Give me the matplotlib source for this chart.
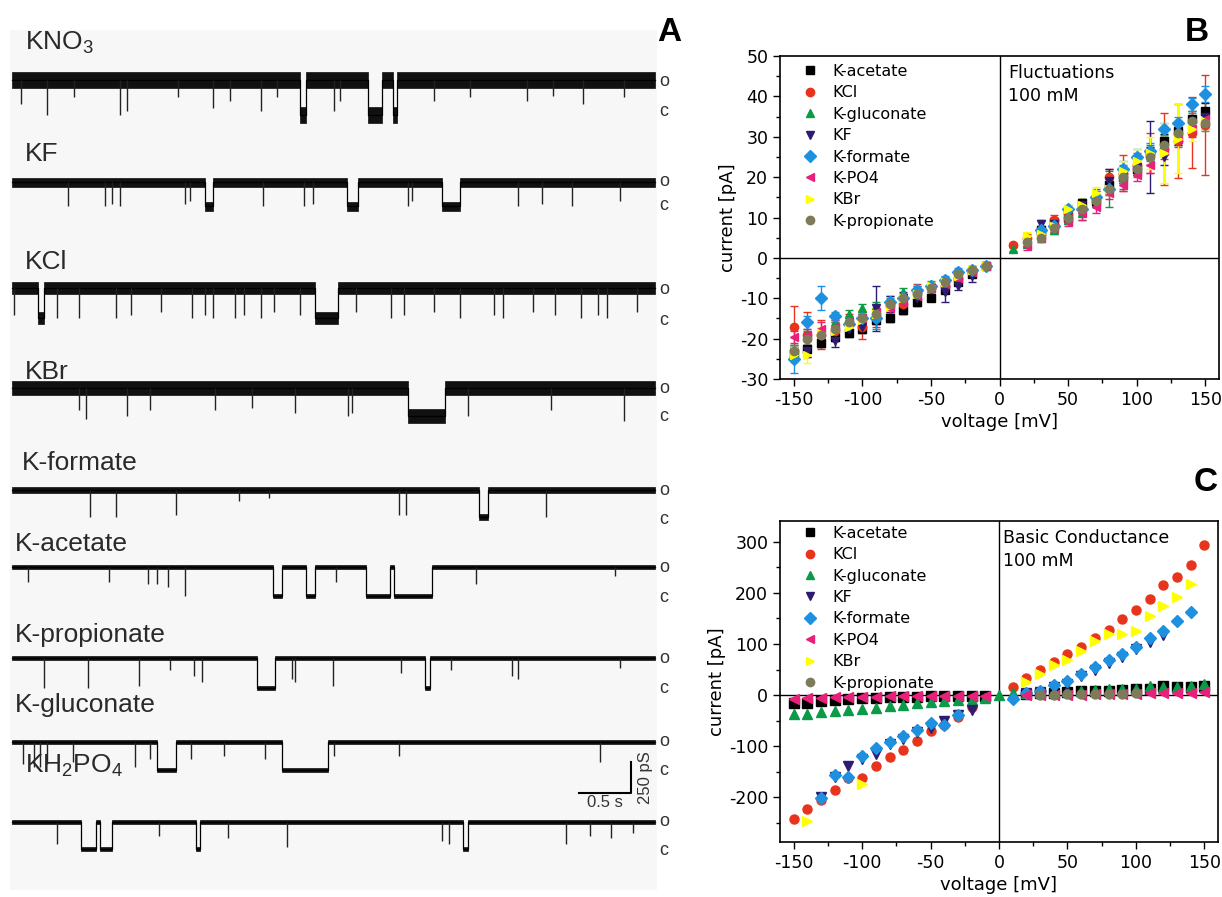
import numpy as np
import matplotlib
matplotlib.use("Agg")
import matplotlib.pyplot as plt
from matplotlib.lines import Line2D
from matplotlib.ticker import MultipleLocator

plt.rcParams["axes.unicode_minus"] = False
plt.rcParams["mathtext.fontset"] = "custom"
plt.rcParams["mathtext.rm"] = "Liberation Sans"
plt.rcParams["mathtext.it"] = "Liberation Sans"

nan = np.nan

# ---------------- panel A: single channel traces ----------------
trace_names = ["KNO$_\\mathrm{3}$", "KF", "KCl", "KBr", "K-formate", "K-acetate",
               "K-propionate", "K-gluconate", "KH$_\\mathrm{2}$PO$_\\mathrm{4}$"]
# open -> closed amplitude (pS)
trace_amp = [280, 195, 240, 225, 220, 235, 240, 225, 220]

# long closures (start s, end s)
kno3_closures = [(2.77, 2.83), (3.42, 3.56), (3.66, 3.70)]
kf_closures = [(1.86, 1.93), (3.22, 3.33), (4.13, 4.31)]
kcl_closures = [(0.25, 0.31), (2.91, 3.13)]
kbr_closures = [(3.81, 4.16)]
formate_closures = [(4.49, 4.58)]
acetate_closures = [(2.51, 2.60), (2.83, 2.91), (3.40, 3.63), (3.67, 4.04)]
propionate_closures = [(2.36, 2.53), (3.97, 4.02)]
gluconate_closures = [(1.39, 1.58), (2.60, 3.04)]
kh2po4_closures = [(0.66, 0.81), (0.85, 0.96), (1.77, 1.81), (4.34, 4.38)]

# brief closures (time s, fraction of full amplitude)
kno3_spikes = [(0.09, 0.7), (0.34, 1.0), (0.60, 0.5), (1.04, 1.0), (1.11, 0.9), (1.60, 0.5),
               (1.93, 0.8), (2.10, 0.6), (2.39, 0.9), (2.55, 0.5), (3.10, 0.9), (3.15, 0.6),
               (4.06, 0.6), (4.40, 0.5), (4.95, 0.6), (5.20, 0.45), (5.49, 0.7), (5.88, 0.5)]
kf_spikes = [(0.54, 1.0), (0.89, 1.0), (0.96, 0.9), (1.04, 1.0), (1.66, 0.9), (1.71, 0.8),
             (2.41, 1.0), (2.81, 1.0), (2.89, 0.9), (3.81, 1.0), (3.85, 0.8), (4.87, 1.0),
             (5.10, 0.9), (5.38, 1.0), (5.85, 0.8)]
kcl_spikes = [(0.02, 0.9), (0.43, 1.0), (0.64, 1.0), (1.00, 1.0), (1.14, 0.9), (1.43, 0.8),
              (1.73, 1.0), (1.86, 0.9), (1.93, 1.0), (2.14, 1.0), (2.23, 0.9), (2.39, 1.0),
              (2.52, 0.8), (2.77, 0.9), (3.31, 0.8), (3.64, 1.0), (3.77, 0.9), (4.06, 0.8),
              (4.31, 1.0), (4.63, 0.9), (4.72, 1.0), (5.01, 0.8), (5.22, 0.9), (5.47, 1.0),
              (5.63, 0.9), (5.72, 1.0), (6.01, 0.8)]
kbr_spikes = [(0.64, 0.8), (0.71, 1.1), (1.11, 1.0), (1.33, 0.8), (1.95, 0.8), (2.31, 0.7),
              (2.72, 0.9), (3.23, 1.0), (3.27, 0.9), (4.38, 1.0), (5.18, 0.8), (5.88, 1.2)]
formate_spikes = [(0.75, 1.0), (1.00, 1.0), (1.58, 0.9), (2.18, 0.4), (2.47, 0.3),
                  (3.72, 0.9), (3.79, 0.9), (5.13, 1.0)]
acetate_spikes = [(0.15, 0.5), (0.93, 0.5), (1.31, 0.6), (1.39, 0.6), (1.50, 0.7),
                  (1.66, 1.0), (3.12, 0.5), (4.46, 0.6), (5.80, 0.3)]
propionate_spikes = [(0.31, 1.0), (0.73, 1.0), (1.22, 0.95), (1.52, 0.4), (1.75, 0.6),
                     (1.83, 0.8), (2.69, 0.7), (2.72, 0.8), (3.09, 0.95), (3.74, 0.5),
                     (4.22, 0.4), (4.81, 0.6), (4.87, 0.7), (5.85, 0.35)]
gluconate_spikes = [(0.11, 0.8), (0.21, 0.9), (0.27, 0.9), (0.34, 0.8), (0.59, 0.7),
                    (1.18, 0.9), (1.33, 0.6), (1.72, 0.6), (2.04, 0.5), (2.43, 0.6),
                    (3.10, 0.5), (3.72, 0.5), (5.65, 0.7)]
kh2po4_spikes = [(0.43, 0.8), (1.41, 0.5), (2.08, 0.6), (2.64, 0.9), (4.13, 0.7),
                 (4.20, 0.8), (5.33, 0.8), (5.56, 0.5), (5.76, 0.6), (5.97, 0.4)]

all_closures = [kno3_closures, kf_closures, kcl_closures, kbr_closures, formate_closures,
                acetate_closures, propionate_closures, gluconate_closures, kh2po4_closures]
all_spikes = [kno3_spikes, kf_spikes, kcl_spikes, kbr_spikes, formate_spikes,
              acetate_spikes, propionate_spikes, gluconate_spikes, kh2po4_spikes]

# ---------------- panel B: fluctuations ----------------
volt_B = [-150, -140, -130, -120, -110, -100, -90, -80, -70, -60, -50, -40, -30, -20, -10,
          10, 20, 30, 40, 50, 60, 70, 80, 90, 100, 110, 120, 130, 140, 150]
acetate_B = [-23.5, -22.5, -21, -19.5, -18.5, -17.5, -15.5, -14.8, -12.8, -11, -10, -8, -6, -4, -2,
             nan, nan, 7, 9, 10, 13.5, 14, 18, 20, 22, 26, 29, 31.5, 34.5, 36.5]
kcl_B = [-17, -19, -19, -18, -16.5, -17, -15, -12, -11.5, -8.5, -7.5, -7, -5, -3.5, -2,
         3.2, 5, 6, 9.5, 11, 12, 15, 20, 21, 23, 26, 27, 29, 31, 33]
gluconate_B = [-23, -19, -18.5, -16, -14, -12.5, -12, -10.5, -8.5, -8, -6.5, -5.5, -4, -2.8, -1.8,
               2.3, 3.5, 5.5, 7, 9.5, 11, 15, 17, 20, 23, 26, 28, 30, 33, 34]
kf_B = [-24, -23, -19, -20.5, -17.5, -17, -12.5, -11.5, -10, -10, -8, -8.5, -7, -4.5, -2,
        nan, nan, 8.5, 8.5, 10.5, 13, 14, 19, 20.5, 22.5, 25, 25, 30, 33, 35]
formate_B = [-25, -16, -10, -14.5, -16.5, -15, -15, -11, -10, -8, -7, -5.5, -3.5, -3, -2,
             nan, nan, 7, 8, 12, 12, 15, 17, 22, 25, 26.5, 32, 33.5, 38, 40.5]
po4_B = [-19.5, -19, -17.5, -17, -16, -15, -13.5, -12.5, -11, -9.5, -7.5, -6.5, -5, -3.5, -2,
         nan, 3, 5, 7.5, 9, 11, 12.5, 16, 18, 20.5, 23, 26.5, 29.5, 32, 34.5]
kbr_B = [-24, -24, -18.5, -18, -17, -15.5, -14, -12, -10, -9, -7, -6, -4.5, -3, -2,
         nan, 5.5, 6, 8, 12, 13, 16, 17, 21.5, 24, 26, 26, 29.5, 32, 34]
propionate_B = [-23, -20, -19, -17.5, -16, -15, -14, -11.5, -10, -9, -7.5, -6, -4, -3, -2,
                nan, 4, 5, 7.5, 10, 12, 14, 17, 20, 22, 25, 28, 31, 34, 33.5]

acetate_Berr = [1.5, 1, 1, 1, 1, 1, 1, 1, 1, 1, 0.8, 0.8, 0.8, 0.8, 0.5,
                nan, nan, 1, 1, 1, 1.2, 1.2, 1.5, 1.5, 1.5, 1.5, 1.8, 1.8, 1.8, 1.8]
kcl_Berr = [5, 5.5, 3.5, 2, 2.5, 3, 2, 1.5, 2.5, 2, 1, 1.5, 1, 1, 0.5,
            0.5, 1, 1, 1, 1.5, 1.5, 1.5, 2, 4.5, 3, 5, 9, 9.2, 8.8, 12.4]
gluconate_Berr = [1.5, 1, 1, 1, 1, 1, 1, 1, 1, 1, 0.8, 0.8, 0.8, 0.5, 0.5,
                  0.5, 0.8, 1, 1, 1, 1.5, 2, 4.5, 3, 2, 2, 2, 2, 2, 2]
kf_Berr = [1.5, 1.5, 1, 1.5, 1, 1, 5.5, 2, 1.5, 1, 1, 2.5, 1, 1.5, 0.5,
           nan, nan, 1, 1, 1, 1.5, 1.5, 3, 2, 2, 9, 2, 2, 2, 2]
formate_Berr = [3.5, 1.5, 3, 1, 1, 1, 2.5, 1, 1, 1, 1, 1, 1, 1, 0.5,
                nan, nan, 1, 1, 1, 1, 1.5, 1.5, 2, 2, 2, 1.5, 1.5, 1.5, 2]
po4_Berr = [1.5, 1.5, 1.5, 1.5, 1.5, 1, 1, 1.5, 1.5, 1, 1, 1, 1, 0.8, 0.5,
            nan, 1, 1, 1, 1, 1.5, 1.5, 1.5, 1.5, 1.5, 2, 2, 2, 2, 2]
kbr_Berr = [2, 2, 1.5, 1.5, 1.5, 2.5, 1.5, 1, 1, 1, 1, 1, 1, 1, 0.5,
            nan, 1, 1, 1, 1, 1.5, 1.5, 1.5, 2.5, 3, 4, 7.5, 8.5, 3, 2]
propionate_Berr = [1.5, 1.5, 1.5, 1.5, 1, 1, 1, 1, 1, 1, 1, 1, 1, 1, 0.5,
                   nan, 1, 1, 1, 1, 1, 1.5, 1.5, 1.5, 1.5, 2, 2, 2, 2, 2]

# ---------------- panel C: basic conductance ----------------
volt_C = [-150, -140, -130, -120, -110, -100, -90, -80, -70, -60, -50, -40, -30, -20, -10, 0,
          10, 20, 30, 40, 50, 60, 70, 80, 90, 100, 110, 120, 130, 140, 150]
acetate_C = [-16, -16, -12, -10, -8, -6, -5, -4, -3, -3, -2, -2, -1, -1, -1, nan,
             nan, 2, 3, 4, 5, 7, 8, 8, 9, 11, 12, 18, 15, 16, 18]
kcl_C = [-242, -224, -205, -187, -163, -162, -140, -122, -108, -91, -71, -58, -44, -24, nan, nan,
         15, 33, 50, 64, 80, 95, 112, 128, 149, 167, 188, 215, 232, 255, 293]
gluconate_C = [-37, -37, -34, -32, -29, -28, -25, -22, -20, -16, -14, -12, -10, -10, -5, 0,
               3, 3, 5, 6, 7, 8, 10, 11, 11, 12, 17, 16, 16, 17, 21]
kf_C = [nan, nan, -200, -160, -139, -126, -116, -95, -86, -72, -64, -50, -40, -29, nan, nan,
        nan, 3, 5, 15, 22, 37, 50, 62, 75, 90, 103, 117, nan, nan, nan]
formate_C = [nan, nan, -201, -157, -160, -120, -104, -93, -80, -69, -55, -58, -39, nan, nan, nan,
             -8, 3, 8, 20, 28, 41, 55, 69, 80, 95, 111, 125, 146, 162, nan]
po4_C = [-8, -6, -5, -4, -4, -3, -3, -2, -2, -2, -1, -1, -1, -1, -1, nan,
         nan, 1, 1, 1, 1, 1, 2, 2, 2, 2, 3, 3, 4, 4, 5]
kbr_C = [nan, -247, nan, nan, nan, -175, nan, nan, nan, nan, nan, nan, nan, nan, nan, nan,
         nan, 25, 41, 58, 69, 86, 105, 119, 120, 125, 154, 174, 192, 218, nan]
propionate_C = [nan, nan, nan, nan, nan, nan, nan, nan, nan, nan, nan, nan, nan, nan, nan, nan,
                nan, nan, 1, 1, 2, 2, 2, 2, 2, 3, nan, nan, nan, nan, nan]

series_labels = ["K-acetate", "KCl", "K-gluconate", "KF", "K-formate", "K-PO4", "KBr", "K-propionate"]
series_colors = ["#000000", "#e8341c", "#0a9a48", "#2f1b70", "#1e90e0", "#e82079", "#ffff00", "#7d7b5a"]
series_markers = ["s", "o", "^", "v", "D", "<", ">", "o"]
B_values = [acetate_B, kcl_B, gluconate_B, kf_B, formate_B, po4_B, kbr_B, propionate_B]
B_errors = [acetate_Berr, kcl_Berr, gluconate_Berr, kf_Berr, formate_Berr, po4_Berr, kbr_Berr, propionate_Berr]
C_values = [acetate_C, kcl_C, gluconate_C, kf_C, formate_C, po4_C, kbr_C, propionate_C]

# ---------------- figure ----------------
W, H = 1222, 897
fig = plt.figure(figsize=(W / 100, H / 100), dpi=100)


def px_axes(x0, y0, x1, y1):
    return fig.add_axes([x0 / W, 1 - y1 / H, (x1 - x0) / W, (y1 - y0) / H])


# ---- panel A ----
axA = px_axes(10, 30, 657, 890)
axA.set_facecolor("#f7f7f7")
for s in axA.spines.values():
    s.set_visible(False)
axA.set_xticks([])
axA.set_yticks([])
px_per_s = 104.0
pS_per_px = 250 / 31.0
axA.set_xlim((10 - 12) / px_per_s, (657 - 12) / px_per_s)
axA.set_ylim(890, 30)  # vertical layout in pixel rows

open_rows = [80, 182, 288, 388, 490, 567, 658, 742, 822]
noise_half = [8, 4.5, 6, 7, 3, 2.2, 2.2, 2.2, 2.2]
label_rows = [30, 142, 250, 360, 451, 532, 623, 693, 753]
label_x = [25, 25, 25, 25, 22, 15, 15, 15, 25]
o_rows = [81, 182, 290, 388, 490, 568, 658, 742, 822]
c_rows = [112, 206, 320, 416, 519, 597, 688, 770, 850]
t_end = (655 - 12) / px_per_s

for i in range(len(trace_names)):
    amp = trace_amp[i] / pS_per_px
    y0 = open_rows[i]
    times = [0.0]
    lev = [y0]
    for a, b in all_closures[i]:
        times += [a, b]
        lev += [y0 + amp, y0]
    times.append(t_end)
    lev.append(y0)
    times = np.array(times)
    lev = np.array(lev)
    hw = noise_half[i]
    axA.fill_between(times, lev - hw, lev + hw, step="post", color="#111111", lw=0.5,
                     edgecolor="#111111")
    axA.step(times, lev, where="post", color="black", lw=0.9)
    st = [s[0] for s in all_spikes[i]]
    sd = [y0 + s[1] * amp for s in all_spikes[i]]
    axA.vlines(st, y0, sd, color="#222222", lw=1.0)
    axA.text((label_x[i] - 12) / px_per_s, label_rows[i], trace_names[i], fontsize=19,
             family="Liberation Sans", va="top", ha="left", color="#2a2a2a")
    fig.text(659 / W, 1 - o_rows[i] / H, "o", fontsize=13, va="center", ha="left",
             family="Liberation Sans", color="#333333")
    fig.text(659 / W, 1 - c_rows[i] / H, "c", fontsize=13, va="center", ha="left",
             family="Liberation Sans", color="#333333")

# scale bar: 0.5 s, 250 pS
sb_t = (631 - 12) / px_per_s
axA.plot([sb_t - 0.5, sb_t, sb_t], [793, 793, 793 - 250 / pS_per_px], color="black", lw=1.5)
axA.text(sb_t - 0.25, 795, "0.5 s", fontsize=12, ha="center", va="top", family="Liberation Sans",
         color="#333333")
axA.text(sb_t + 0.07, 778, "250 pS", fontsize=12, ha="left", va="center", rotation=90,
         family="Liberation Sans", color="#333333")

# panel letters
fig.text(657 / W, 1 - 17 / H, "A", fontsize=24, fontweight="bold", va="top", ha="left",
         family="Liberation Sans")
fig.text(1185 / W, 1 - 17 / H, "B", fontsize=24, fontweight="bold", va="top", ha="left",
         family="Liberation Sans")
fig.text(1194 / W, 1 - 467 / H, "C", fontsize=24, fontweight="bold", va="top", ha="left",
         family="Liberation Sans")


def style_iv(ax, ylim, ymajor, yminor, legend_top):
    ax.set_xlim(-160, 160)
    ax.set_ylim(*ylim)
    ax.xaxis.set_major_locator(MultipleLocator(50))
    ax.xaxis.set_minor_locator(MultipleLocator(25))
    ax.yaxis.set_major_locator(MultipleLocator(ymajor))
    ax.yaxis.set_minor_locator(MultipleLocator(yminor))
    ax.tick_params(which="both", direction="out", top=False, right=False, labelsize=12.5)
    ax.tick_params(which="major", length=5, width=1)
    ax.tick_params(which="minor", length=3, width=1)
    for s in ax.spines.values():
        s.set_linewidth(1.2)
    ax.axhline(0, color="black", lw=1, zorder=1)
    ax.axvline(0, color="black", lw=1, zorder=1)
    ax.set_xlabel("voltage [mV]", fontsize=13, labelpad=3)
    ax.set_ylabel("current [pA]", fontsize=13, labelpad=2)
    handles = [Line2D([], [], ls="none", marker=m, color=c, ms=6)
               for m, c in zip(series_markers, series_colors)]
    ax.legend(handles, series_labels, loc="upper left", bbox_to_anchor=(0.05, legend_top),
              frameon=False, fontsize=11.5, handlelength=1.0, handletextpad=0.9,
              labelspacing=0.4, borderpad=0, borderaxespad=0)


# ---- panel B ----
axB = px_axes(780, 56, 1219, 379)
for vals, errs, c, m in zip(B_values, B_errors, series_colors, series_markers):
    axB.errorbar(volt_B, vals, yerr=errs, fmt=m, color=c, ms=6, ecolor=c,
                 elinewidth=1, capsize=3, capthick=1, zorder=3)
style_iv(axB, (-30, 50), 10, 5, 0.975)
axB.text(0.519, 0.975, "Fluctuations\n100 mM", transform=axB.transAxes, fontsize=12.5,
         va="top", ha="left", linespacing=1.35)

# ---- panel C ----
axC = px_axes(780, 521, 1218, 842)
for vals, c, m in zip(C_values, series_colors, series_markers):
    axC.plot(volt_C, vals, ls="none", marker=m, color=c, ms=6.5, zorder=3)
style_iv(axC, (-288, 341), 100, 50, 0.985)
axC.text(0.51, 0.975, "Basic Conductance\n100 mM", transform=axC.transAxes, fontsize=12.5,
         va="top", ha="left", linespacing=1.35)

fig.savefig("out.png", dpi=100)
